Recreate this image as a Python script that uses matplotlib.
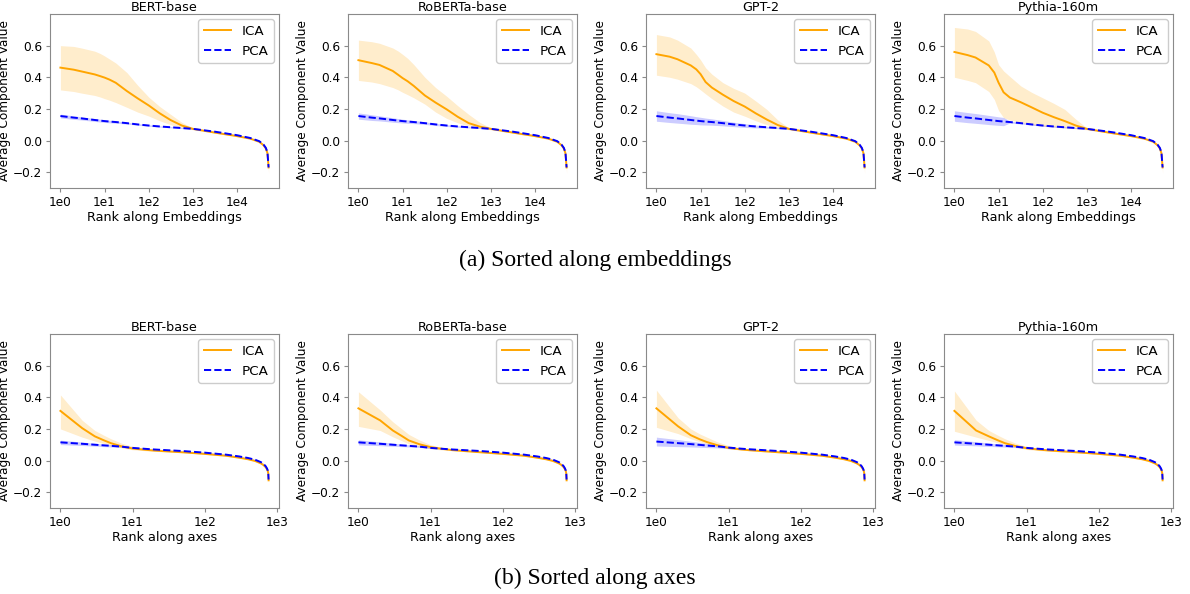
import numpy as np
import matplotlib
matplotlib.use("Agg")
import matplotlib.pyplot as plt

models = ["BERT-base", "RoBERTa-base", "GPT-2", "Pythia-160m"]

# ---------------- (a) Sorted along embeddings ----------------
rank_emb = [1, 2, 3, 6, 8, 10, 13, 18, 32, 56, 100, 178, 316, 562, 1000, 3162, 10000,
            20000, 32000, 40000, 45000, 49000, 52000]
tail_emb = [0.050, 0.028, 0.012, -0.008, -0.030, -0.050, -0.080, -0.170]
tail_emb_upper = [0.052, 0.030, 0.014, -0.006, -0.026, -0.047, -0.075, -0.160]
tail_emb_lower = [0.048, 0.026, 0.010, -0.010, -0.034, -0.055, -0.090, -0.210]

ica_emb_mean = {
    "BERT-base":    [0.461, 0.448, 0.437, 0.418, 0.407, 0.398, 0.385, 0.365, 0.313, 0.267, 0.222, 0.172, 0.129, 0.095, 0.074],
    "RoBERTa-base": [0.508, 0.490, 0.478, 0.440, 0.415, 0.395, 0.375, 0.345, 0.285, 0.240, 0.197, 0.150, 0.110, 0.088, 0.074],
    "GPT-2":        [0.546, 0.530, 0.514, 0.475, 0.450, 0.420, 0.370, 0.335, 0.290, 0.250, 0.215, 0.172, 0.133, 0.098, 0.074],
    "Pythia-160m":  [0.560, 0.540, 0.525, 0.475, 0.430, 0.366, 0.305, 0.272, 0.242, 0.210, 0.176, 0.148, 0.123, 0.095, 0.074],
}
ica_emb_upper = {
    "BERT-base":    [0.600, 0.595, 0.585, 0.565, 0.550, 0.535, 0.515, 0.490, 0.430, 0.350, 0.275, 0.215, 0.165, 0.115, 0.080],
    "RoBERTa-base": [0.635, 0.625, 0.615, 0.585, 0.565, 0.545, 0.520, 0.480, 0.400, 0.335, 0.280, 0.220, 0.165, 0.115, 0.080],
    "GPT-2":        [0.670, 0.655, 0.635, 0.585, 0.545, 0.510, 0.460, 0.420, 0.366, 0.330, 0.300, 0.250, 0.197, 0.130, 0.080],
    "Pythia-160m":  [0.715, 0.705, 0.690, 0.630, 0.560, 0.480, 0.440, 0.405, 0.345, 0.305, 0.270, 0.235, 0.197, 0.135, 0.080],
}
ica_emb_lower = {
    "BERT-base":    [0.320, 0.310, 0.300, 0.285, 0.275, 0.265, 0.255, 0.240, 0.210, 0.180, 0.155, 0.125, 0.100, 0.082, 0.068],
    "RoBERTa-base": [0.380, 0.370, 0.360, 0.335, 0.320, 0.305, 0.290, 0.270, 0.230, 0.180, 0.140, 0.112, 0.092, 0.078, 0.068],
    "GPT-2":        [0.413, 0.400, 0.388, 0.360, 0.340, 0.320, 0.295, 0.265, 0.218, 0.180, 0.154, 0.125, 0.100, 0.082, 0.068],
    "Pythia-160m":  [0.400, 0.380, 0.366, 0.310, 0.260, 0.190, 0.145, 0.130, 0.115, 0.100, 0.090, 0.085, 0.080, 0.074, 0.068],
}
pca_emb_mean = [0.155, 0.145, 0.140, 0.130, 0.126, 0.123, 0.120, 0.117, 0.110, 0.102, 0.095, 0.089, 0.084, 0.079, 0.074,
                0.056, 0.034, 0.016, -0.004, -0.026, -0.046, -0.075, -0.170]
pca_emb_half = {
    "BERT-base":    [0.012, 0.011, 0.010, 0.009, 0.009, 0.008, 0.008, 0.007, 0.006, 0.005, 0.005, 0.004, 0.004, 0.003, 0.003]
                    + [0.003] * 8,
    "RoBERTa-base": [0.020, 0.018, 0.016, 0.014, 0.013, 0.012, 0.011, 0.010, 0.008, 0.007, 0.006, 0.005, 0.004, 0.003, 0.003]
                    + [0.003] * 8,
    "GPT-2":        [0.033, 0.031, 0.030, 0.027, 0.025, 0.024, 0.022, 0.020, 0.017, 0.014, 0.012, 0.009, 0.006, 0.004, 0.003]
                    + [0.003] * 8,
    "Pythia-160m":  [0.033, 0.032, 0.031, 0.029, 0.028, 0.027, 0.026, 0.006, 0.005, 0.005, 0.004, 0.004, 0.004, 0.003, 0.003]
                    + [0.003] * 8,
}

# ---------------- (b) Sorted along axes ----------------
rank_ax = [1, 2, 3, 4, 5, 7, 10, 15, 20, 50, 100, 200, 300, 400, 500, 600, 650, 700, 730, 750, 760, 768]
tail_ax = [0.052, 0.042, 0.030, 0.018, 0.008, -0.003, -0.018, -0.028, -0.042, -0.055, -0.068, -0.082, -0.125]
tail_ax_upper = [0.054, 0.044, 0.032, 0.020, 0.010, -0.001, -0.016, -0.026, -0.040, -0.052, -0.064, -0.076, -0.112]
tail_ax_lower = [0.050, 0.040, 0.028, 0.016, 0.006, -0.005, -0.020, -0.030, -0.045, -0.058, -0.072, -0.090, -0.140]

ica_ax_mean = {
    "BERT-base":    [0.314, 0.205, 0.153, 0.128, 0.110, 0.090, 0.076, 0.068, 0.063],
    "RoBERTa-base": [0.330, 0.254, 0.190, 0.155, 0.127, 0.103, 0.085, 0.073, 0.066],
    "GPT-2":        [0.330, 0.216, 0.160, 0.134, 0.117, 0.097, 0.080, 0.070, 0.065],
    "Pythia-160m":  [0.314, 0.190, 0.153, 0.128, 0.110, 0.092, 0.078, 0.069, 0.064],
}
ica_ax_upper = {
    "BERT-base":    [0.415, 0.255, 0.190, 0.160, 0.138, 0.110, 0.090, 0.075, 0.068],
    "RoBERTa-base": [0.435, 0.320, 0.245, 0.200, 0.165, 0.130, 0.100, 0.080, 0.070],
    "GPT-2":        [0.445, 0.270, 0.200, 0.168, 0.148, 0.118, 0.095, 0.078, 0.070],
    "Pythia-160m":  [0.440, 0.255, 0.190, 0.160, 0.138, 0.110, 0.090, 0.076, 0.069],
}
ica_ax_lower = {
    "BERT-base":    [0.200, 0.148, 0.123, 0.107, 0.095, 0.080, 0.068, 0.062, 0.058],
    "RoBERTa-base": [0.216, 0.190, 0.150, 0.125, 0.105, 0.087, 0.074, 0.066, 0.062],
    "GPT-2":        [0.210, 0.170, 0.138, 0.118, 0.106, 0.088, 0.074, 0.066, 0.061],
    "Pythia-160m":  [0.185, 0.148, 0.127, 0.112, 0.100, 0.084, 0.070, 0.063, 0.059],
}

pca_ax_head = {
    "BERT-base":    [0.115, 0.106, 0.100, 0.096, 0.093, 0.088, 0.080, 0.074, 0.070],
    "RoBERTa-base": [0.115, 0.106, 0.100, 0.096, 0.093, 0.088, 0.080, 0.074, 0.070],
    "GPT-2":        [0.120, 0.110, 0.104, 0.099, 0.095, 0.090, 0.082, 0.075, 0.071],
    "Pythia-160m":  [0.115, 0.106, 0.100, 0.096, 0.093, 0.088, 0.080, 0.074, 0.070],
}
pca_ax_tail = [0.060, 0.050, 0.037, 0.026, 0.016, 0.005, -0.010, -0.020, -0.036, -0.050, -0.064, -0.080, -0.120]
pca_ax_half = {
    "BERT-base":    [0.014, 0.011, 0.009, 0.008, 0.007, 0.005, 0.004, 0.003] + [0.002] * 14,
    "RoBERTa-base": [0.016, 0.012, 0.010, 0.008, 0.007, 0.005, 0.004, 0.003] + [0.002] * 14,
    "GPT-2":        [0.028, 0.022, 0.018, 0.015, 0.013, 0.010, 0.007, 0.004] + [0.002] * 14,
    "Pythia-160m":  [0.017, 0.013, 0.011, 0.009, 0.008, 0.006, 0.004, 0.003] + [0.002] * 14,
}

emb_ticks = [1, 10, 100, 1000, 10000]
emb_ticklabels = ["1e0", "1e1", "1e2", "1e3", "1e4"]
ax_ticks = [1, 10, 100, 1000]
ax_ticklabels = ["1e0", "1e1", "1e2", "1e3"]
yticks = [-0.2, 0.0, 0.2, 0.4, 0.6]

ICA_COLOR = "orange"
PCA_COLOR = "blue"
SPINE = "#8a8a8a"

fig = plt.figure(figsize=(11.9, 5.94), dpi=100)

lefts = [50, 348, 646, 944]
W, H = 1190.0, 594.0
aw, ah = 229, 174


def style(ax, ticks, ticklabels, xlabel, title):
    ax.set_xscale("log")
    ax.set_xticks(ticks)
    ax.set_xticklabels(ticklabels)
    ax.xaxis.set_minor_locator(matplotlib.ticker.NullLocator())
    ax.set_ylim(-0.3, 0.8)
    ax.set_yticks(yticks)
    ax.set_yticklabels([f"{v:.1f}".replace("-", "\u2212") for v in yticks])
    ax.tick_params(labelsize=8.7, colors=SPINE, labelcolor="black", length=3, pad=2.5)
    for s in ax.spines.values():
        s.set_color(SPINE)
    ax.set_xlabel(xlabel, fontsize=9.2, labelpad=1.5)
    ax.set_ylabel("Average Component Value", fontsize=8.7, labelpad=1.5)
    ax.set_title(title, fontsize=9.2, pad=2.5)
    ax.legend(loc="upper right", fontsize=9.7, framealpha=1, edgecolor="#cccccc",
              handlelength=2.0, borderaxespad=0.4)


for i, m in enumerate(models):
    ax = fig.add_axes([lefts[i] / W, 1 - 188 / H, aw / W, ah / H])
    ax.fill_between(rank_emb, ica_emb_lower[m] + tail_emb_lower, ica_emb_upper[m] + tail_emb_upper,
                    color=ICA_COLOR, alpha=0.2, lw=0)
    ax.plot(rank_emb, ica_emb_mean[m] + tail_emb, color=ICA_COLOR, lw=1.4, label="ICA")
    lo = np.array(pca_emb_mean) - np.array(pca_emb_half[m])
    hi = np.array(pca_emb_mean) + np.array(pca_emb_half[m])
    ax.fill_between(rank_emb, lo, hi, color=PCA_COLOR, alpha=0.2, lw=0)
    ax.plot(rank_emb, pca_emb_mean, color=PCA_COLOR, lw=1.4, ls="--", label="PCA")
    style(ax, emb_ticks, emb_ticklabels, "Rank along Embeddings", m)

    ax = fig.add_axes([lefts[i] / W, 1 - 508 / H, aw / W, ah / H])
    ax.fill_between(rank_ax, ica_ax_lower[m] + tail_ax_lower, ica_ax_upper[m] + tail_ax_upper,
                    color=ICA_COLOR, alpha=0.2, lw=0)
    ax.plot(rank_ax, ica_ax_mean[m] + tail_ax, color=ICA_COLOR, lw=1.4, label="ICA")
    pm = np.array(pca_ax_head[m] + pca_ax_tail)
    ph = np.array(pca_ax_half[m])
    ax.fill_between(rank_ax, pm - ph, pm + ph, color=PCA_COLOR, alpha=0.2, lw=0)
    ax.plot(rank_ax, pm, color=PCA_COLOR, lw=1.4, ls="--", label="PCA")
    style(ax, ax_ticks, ax_ticklabels, "Rank along axes", m)

fig.text(0.5, 1 - 260 / H, "(a) Sorted along embeddings", ha="center", va="center",
         family="Liberation Serif", fontsize=17)
fig.text(0.5, 1 - 578 / H, "(b) Sorted along axes", ha="center", va="center",
         family="Liberation Serif", fontsize=17)

fig.savefig("out.png", dpi=100)
